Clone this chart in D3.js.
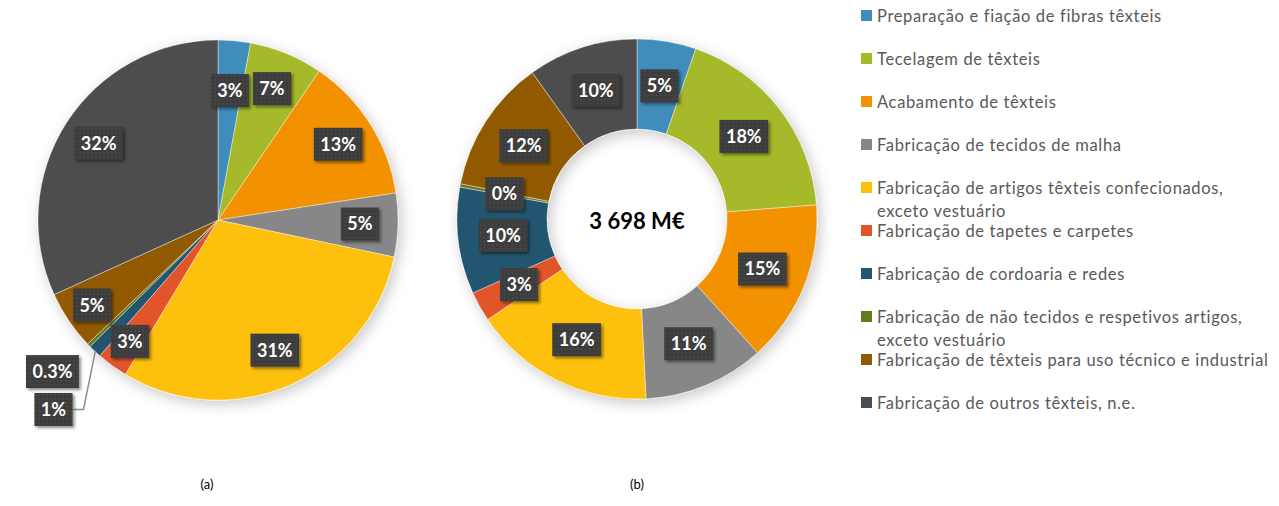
<!DOCTYPE html>
<html>
<head>
<meta charset="utf-8">
<script src="https://cdn.jsdelivr.net/npm/d3@7"></script>
<style>
  body { margin: 0; background: #fff; }
  text { font-family: Lato, "Open Sans", sans-serif; }
</style>
</head>
<body>
<div id="chart-area"></div>
<script>
// categories and values
let categories = [
  "Preparação e fiação de fibras têxteis",
  "Tecelagem de têxteis",
  "Acabamento de têxteis",
  "Fabricação de tecidos de malha",
  "Fabricação de artigos têxteis confecionados,|exceto vestuário",
  "Fabricação de tapetes e carpetes",
  "Fabricação de cordoaria e redes",
  "Fabricação de não tecidos e respetivos artigos,|exceto vestuário",
  "Fabricação de têxteis para uso técnico e industrial",
  "Fabricação de outros têxteis, n.e."
];
let colors = ["#3f8dbb", "#a5b92b", "#f39200", "#878787", "#fdc10c",
              "#e2552b", "#24566f", "#66781f", "#925a00", "#4d4d4d"];

let valuesA = [2.9, 6.6, 13.1, 5.7, 30.3, 2.8, 1.2, 0.3, 5.3, 31.8];
let labelsA = ["3%", "7%", "13%", "5%", "31%", "3%", "1%", "0.3%", "5%", "32%"];

let valuesB = [5.3, 18.5, 14.6, 10.9, 16.4, 2.7, 9.6, 0.3, 12.0, 9.9];
let labelsB = ["5%", "18%", "15%", "11%", "16%", "3%", "10%", "0%", "12%", "10%"];

let total = "3 698 M€";
let captions = ["(a)", "(b)"];

let W = 1279, H = 506;
let svg = d3.select("#chart-area").append("svg")
  .attr("width", W).attr("height", H);

let defs = svg.append("defs");
// dotted dark fill of the label boxes
let pat = defs.append("pattern")
  .attr("id", "dots").attr("width", 4).attr("height", 4)
  .attr("patternUnits", "userSpaceOnUse");
pat.append("rect").attr("width", 4).attr("height", 4).attr("fill", "#3e3e3e");
pat.append("rect").attr("x", 1).attr("y", 1).attr("width", 1).attr("height", 1).attr("fill", "#575757");

let sh = defs.append("filter").attr("id", "boxShadow")
  .attr("x", "-30%").attr("y", "-30%").attr("width", "160%").attr("height", "160%");
sh.append("feDropShadow").attr("dx", 2).attr("dy", 2).attr("stdDeviation", 1.8)
  .attr("flood-color", "#000").attr("flood-opacity", 0.45);

let ps = defs.append("filter").attr("id", "pieShadow")
  .attr("x", "-20%").attr("y", "-20%").attr("width", "140%").attr("height", "140%");
ps.append("feDropShadow").attr("dx", 3).attr("dy", 4).attr("stdDeviation", 7)
  .attr("flood-color", "#000").attr("flood-opacity", 0.22);

let R = 180;
let pie = d3.pie().sort(null).value(d => d);

function label(g, x, y, txt) {
  let lg = g.append("g").attr("transform", `translate(${x},${y})`);
  let rect = lg.append("rect").attr("fill", "url(#dots)").attr("filter", "url(#boxShadow)");
  let t = lg.append("text")
    .attr("text-anchor", "middle").attr("dy", "0.36em")
    .attr("font-size", "18px").attr("font-weight", "bold")
    .attr("fill", "#fff").text(txt);
  let w = t.node().getComputedTextLength() + 13;
  rect.attr("x", -w / 2).attr("y", -16.5).attr("width", w).attr("height", 33);
  return w;
}

function polar(a, r) { return [r * Math.sin(a), -r * Math.cos(a)]; }

// (a) pie
let cxA = 218, cyA = 220;
let gA = svg.append("g").attr("transform", `translate(${cxA},${cyA})`);
let arcA = d3.arc().innerRadius(0).outerRadius(R);
let arcsA = pie(valuesA);
gA.append("g").attr("filter", "url(#pieShadow)")
  .selectAll("path").data(arcsA).enter().append("path")
    .attr("d", arcA)
    .attr("fill", (d, i) => colors[i])
    .attr("stroke", "#fff").attr("stroke-width", 0.4);

// label radius per slice, and small slices pushed outside (offset from rim point)
let labR = { 0: 130, 5: 150, 8: 152 };
let outside = { 6: { dx: -42, dy: 59, leader: true }, 7: { dx: -37, dy: 27 } };
arcsA.forEach((d, i) => {
  let a = (d.startAngle + d.endAngle) / 2;
  if (outside[i]) {
    let [ex, ey] = polar(a, R - 1);
    let x = ex + outside[i].dx, y = ey + outside[i].dy;
    if (outside[i].leader) {
      let w = 40;
      gA.append("polyline")
        .attr("points", `${ex},${ey} ${x + w / 2 + 10},${y} ${x + w / 2},${y}`)
        .attr("fill", "none").attr("stroke", "#8c8c8c").attr("stroke-width", 1.5);
    }
    label(gA, x, y, labelsA[i]);
  } else {
    let [x, y] = polar(a, labR[i] || 142);
    label(gA, x, y, labelsA[i]);
  }
});

// (b) doughnut
let cxB = 637, cyB = 219;
let gB = svg.append("g").attr("transform", `translate(${cxB},${cyB})`);
let arcB = d3.arc().innerRadius(90).outerRadius(R);
let arcsB = pie(valuesB);
gB.append("g").attr("filter", "url(#pieShadow)")
  .selectAll("path").data(arcsB).enter().append("path")
    .attr("d", arcB)
    .attr("fill", (d, i) => colors[i])
    .attr("stroke", "#fff").attr("stroke-width", 0.4);
arcsB.forEach((d, i) => {
  let a = (d.startAngle + d.endAngle) / 2;
  let [x, y] = polar(a, 135);
  label(gB, x, y, labelsB[i]);
});
gB.append("text")
  .attr("text-anchor", "middle").attr("y", 10)
  .attr("font-size", "22px").attr("font-weight", "bold").attr("fill", "#000")
  .text(total);

// captions
svg.selectAll(".caption").data(captions).enter().append("text")
  .attr("class", "caption")
  .attr("x", (d, i) => i === 0 ? 207 : 637)
  .attr("y", 489)
  .attr("text-anchor", "middle")
  .attr("font-size", "13px").attr("fill", "#000")
  .text(d => d);

// legend
let lg = svg.append("g").attr("transform", "translate(861,0)");
categories.forEach((c, i) => {
  let y0 = 15.5 + 43 * i;
  lg.append("rect").attr("x", 0).attr("y", y0 - 5.5)
    .attr("width", 11).attr("height", 11).attr("fill", colors[i]);
  let lines = c.split("|");
  let t = lg.append("text").attr("x", 16).attr("y", y0 + 6)
    .attr("font-size", "16.5px").attr("letter-spacing", "0.65px").attr("fill", "#595959");
  lines.forEach((l, j) => {
    t.append("tspan").attr("x", 16).attr("dy", j === 0 ? 0 : 23).text(l);
  });
});
</script>
</body>
</html>
